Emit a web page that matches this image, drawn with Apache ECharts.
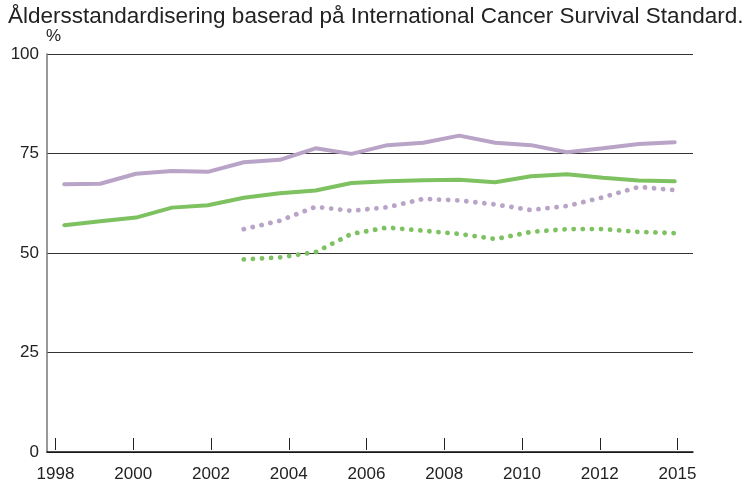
<!DOCTYPE html>
<html lang="sv">
	<head>
		<meta charset="UTF-8">
		<title></title>
		<style type="text/css">
			html,
			body {
				margin: 0;
				padding: 0;
				background: #fff;
			}

			#main {
				width: 749px;
				height: 483px;
			}
		</style>
	</head>
	<body>
		<div id="main"></div>

		<script src="https://cdn.jsdelivr.net/npm/echarts@6/dist/echarts.min.js" type="text/javascript" charset="utf-8"></script>
		<script type="text/javascript">
			let years = [1998, 1999, 2000, 2001, 2002, 2003, 2004, 2005, 2006, 2007, 2008, 2009, 2010, 2011, 2012, 2013, 2014, 2015];
			let tickLabels = ['1998', '2000', '2002', '2004', '2006', '2008', '2010', '2012', '2015'];

			let purpleSolid = [67.3, 67.4, 69.9, 70.6, 70.4, 72.8, 73.4, 76.3, 74.9, 77.1, 77.7, 79.5, 77.7, 77.1, 75.3, 76.3, 77.4, 77.8];
			let greenSolid = [57.0, 58.0, 58.9, 61.4, 62.0, 63.9, 65.0, 65.7, 67.6, 68.0, 68.3, 68.4, 67.8, 69.3, 69.8, 68.9, 68.2, 68.0];
			let purpleDotted = [null, null, null, null, null, 56.0, 58.1, 61.6, 60.6, 61.5, 63.6, 63.2, 62.2, 60.8, 61.8, 64.0, 66.6, 65.8];
			let greenDotted = [null, null, null, null, null, 48.4, 48.9, 50.2, 54.8, 56.4, 55.6, 54.8, 53.5, 55.3, 56.0, 56.0, 55.3, 55.0];

			const purple = '#b9a3c7';
			const green = '#7dc160';
			const font = 'Liberation Sans, Arial, sans-serif';

			function pairs(vals) {
				return years.map((y, i) => [y, vals[i]]);
			}

			function line(vals, color, dotted) {
				return {
					type: 'line',
					xAxisIndex: 0,
					yAxisIndex: 0,
					data: pairs(vals),
					symbol: 'none',
					silent: true,
					connectNulls: false,
					lineStyle: {
						color: color,
						width: dotted ? 4.8 : 4,
						type: dotted ? [0.1, 9] : 'solid',
						cap: 'round'
					}
				};
			}

			var myChart = echarts.init(document.getElementById('main'));
			var option = {
				animation: false,
				title: {
					text: 'Åldersstandardisering baserad på International Cancer Survival Standard.',
					left: 3,
					top: 0,
					textStyle: {
						fontFamily: font,
						fontWeight: 'normal',
						fontSize: 22.5,
						color: '#222'
					}
				},
				graphic: [{
					type: 'text',
					left: 46,
					top: 28,
					style: {
						text: '%',
						font: '17px ' + font,
						fill: '#222'
					}
				}],
				grid: [{
					left: 47,
					right: 56,
					top: 54,
					bottom: 31
				}, {
					left: 55.5,
					right: 71.5,
					top: 54,
					bottom: 31
				}],
				xAxis: [{
					type: 'value',
					gridIndex: 0,
					min: 1997.52,
					max: 2015.51,
					axisLine: {
						show: true,
						onZero: false,
						lineStyle: { color: '#111', width: 1.5 }
					},
					axisTick: { show: false },
					axisLabel: { show: false },
					splitLine: { show: false }
				}, {
					type: 'category',
					gridIndex: 1,
					data: tickLabels,
					boundaryGap: false,
					axisLine: { show: false },
					axisTick: {
						show: true,
						inside: true,
						length: 12,
						lineStyle: { color: '#222', width: 1 }
					},
					axisLabel: {
						margin: 16,
						fontFamily: font,
						fontSize: 17,
						color: '#222'
					},
					splitLine: { show: false }
				}],
				yAxis: [{
					type: 'value',
					gridIndex: 0,
					min: 0,
					max: 100,
					interval: 25,
					axisLine: {
						show: true,
						lineStyle: { color: '#777', width: 1.5 }
					},
					axisTick: { show: false },
					axisLabel: {
						margin: 8,
						fontFamily: font,
						fontSize: 17,
						color: '#222'
					},
					splitLine: {
						show: true,
						lineStyle: { color: '#333', width: 1.2 }
					}
				}, {
					type: 'value',
					gridIndex: 1,
					show: false,
					min: 0,
					max: 100
				}],
				series: [
					line(purpleSolid, purple, false),
					line(greenSolid, green, false),
					line(purpleDotted, purple, true),
					line(greenDotted, green, true)
				]
			};

			myChart.setOption(option);
		</script>
	</body>
</html>
